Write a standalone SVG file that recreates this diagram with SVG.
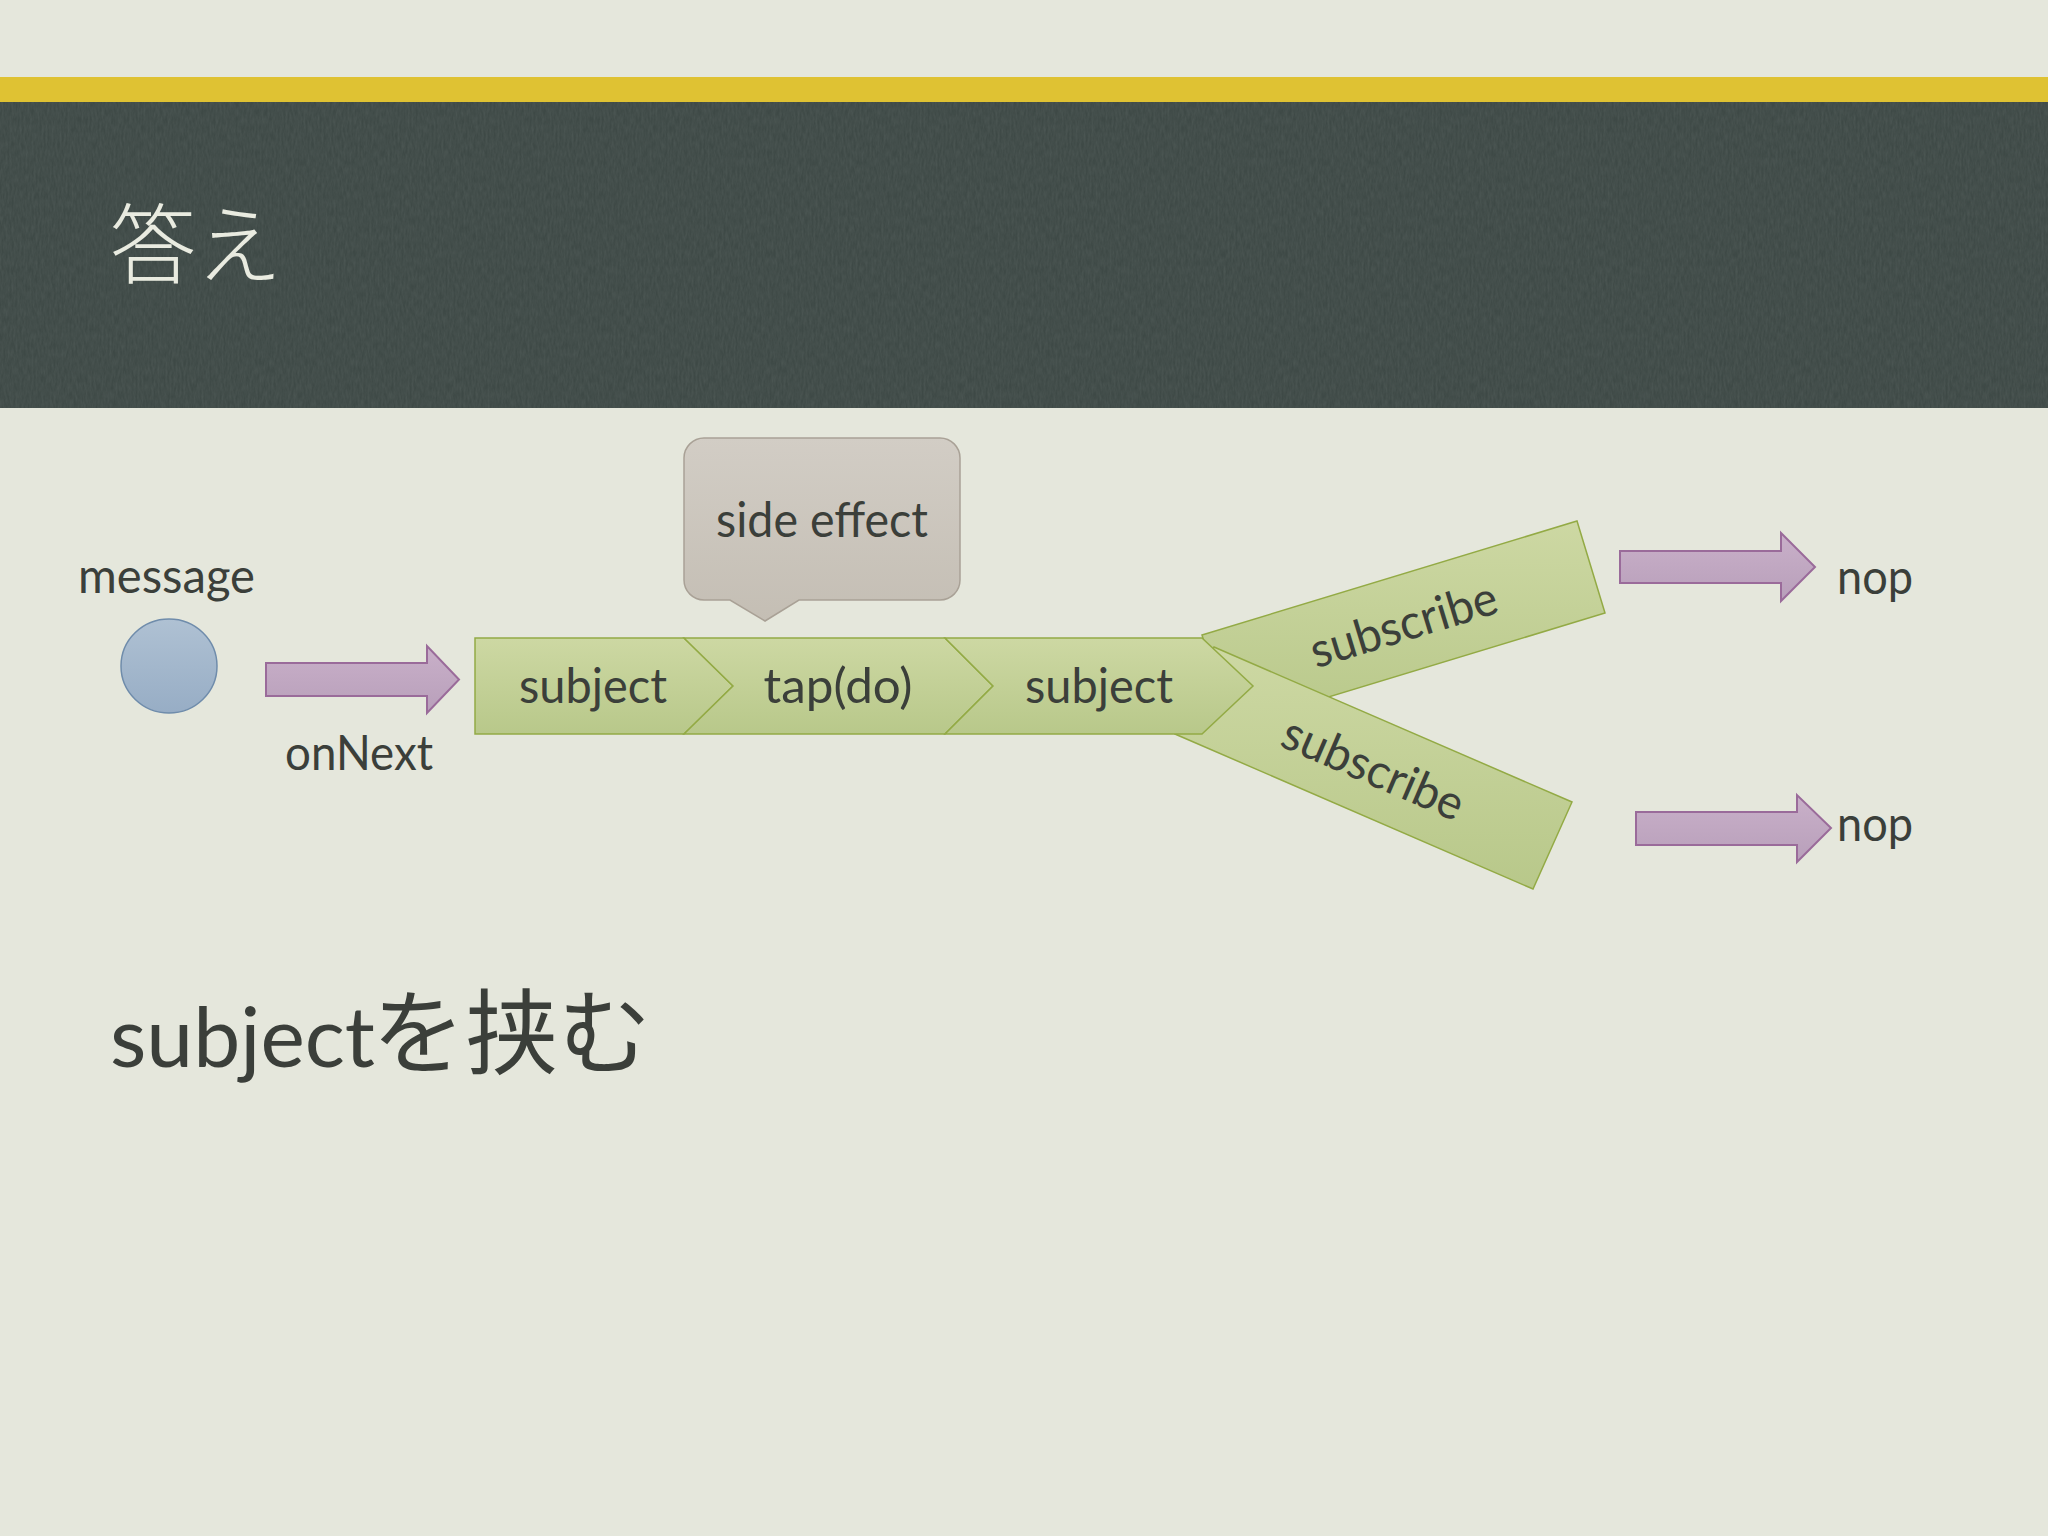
<svg xmlns="http://www.w3.org/2000/svg" width="2048" height="1536" viewBox="0 0 2048 1536">
<defs>
<style>
.lbl{font-family:Lato,"Open Sans","Noto Sans",sans-serif;font-size:48px;fill:#3b3f3a}
.grn{fill:url(#gGreen);stroke:#93aa45;stroke-width:1.5}
.pur{fill:url(#gPur);stroke:#9a6b9a;stroke-width:2}
</style>
<linearGradient id="gGreen" x1="0" y1="0" x2="0" y2="1">
<stop offset="0" stop-color="#cdd8a3"/>
<stop offset="1" stop-color="#b8c88a"/>
</linearGradient>
<linearGradient id="gPur" x1="0" y1="0" x2="0" y2="1">
<stop offset="0" stop-color="#c9b0c9"/>
<stop offset="1" stop-color="#b89fba"/>
</linearGradient>
<linearGradient id="gBlue" x1="0" y1="0" x2="0" y2="1">
<stop offset="0" stop-color="#afc1d3"/>
<stop offset="1" stop-color="#97adc5"/>
</linearGradient>
<linearGradient id="gGrey" x1="0" y1="0" x2="0" y2="1">
<stop offset="0" stop-color="#d2cdc5"/>
<stop offset="1" stop-color="#c4beb4"/>
</linearGradient>
<filter id="chalk" x="0" y="0" width="100%" height="100%">
<feTurbulence type="fractalNoise" baseFrequency="0.5 0.12" numOctaves="3" seed="4"/>
<feColorMatrix type="matrix" values="0 0 0 0 0.85  0 0 0 0 0.9  0 0 0 0 0.88  0 0 0 0.3 -0.06"/>
</filter>
</defs>
<rect width="2048" height="1536" fill="#e5e7dc"/>
<g id="header">
<rect x="0" y="77" width="2048" height="25" fill="#dfc233"/>
<rect x="0" y="102" width="2048" height="306" fill="#3e4946"/>
<rect x="0" y="102" width="2048" height="306" filter="url(#chalk)" opacity="0.35"/>
<text x="110" y="277" font-family="'Noto Sans CJK JP',sans-serif" font-weight="300" font-size="86" fill="#e9ebe0">答え</text>
</g>
<g id="connectors">
<polygon class="pur" points="266,663 427,663 427,646 459,679.5 427,713 427,696 266,696"/>
<polygon class="pur" points="1620,551 1781,551 1781,533 1815,567 1781,601 1781,583 1620,583"/>
<polygon class="pur" points="1636,812 1797,812 1797,795 1831,828 1797,862 1797,845 1636,845"/>
</g>
<g id="message">
<ellipse cx="169" cy="666" rx="48" ry="47" fill="url(#gBlue)" stroke="#6f8cab" stroke-width="1.5"/>
<text class="lbl" x="166.5" y="593" text-anchor="middle" textLength="177" lengthAdjust="spacingAndGlyphs">message</text>
</g>
<g id="onNext">
<text class="lbl" x="359" y="770" text-anchor="middle" textLength="148" lengthAdjust="spacingAndGlyphs">onNext</text>
</g>
<g id="side-effect">
<path d="M704,438 H940 A20,20 0 0 1 960,458 V580 A20,20 0 0 1 940,600 H799 L765,621 L730,600 H704 A20,20 0 0 1 684,580 V458 A20,20 0 0 1 704,438 Z" fill="url(#gGrey)" stroke="#a9a196" stroke-width="1.5"/>
<text class="lbl" x="822" y="537" text-anchor="middle" textLength="212" lengthAdjust="spacingAndGlyphs">side effect</text>
</g>
<g id="subscribe-1">
<polygon class="grn" points="1202,635 1577,521 1605,613 1230,727"/>
<text class="lbl" transform="translate(1403.5,624) rotate(-16.9)" x="0" y="17" text-anchor="middle" textLength="193" lengthAdjust="spacingAndGlyphs">subscribe</text>
</g>
<g id="subscribe-2">
<polygon class="grn" points="1214,647 1572,802 1533,889 1175,734"/>
<text class="lbl" transform="translate(1373.5,768) rotate(23.3)" x="0" y="17" text-anchor="middle" textLength="193" lengthAdjust="spacingAndGlyphs">subscribe</text>
</g>
<g id="subject-1">
<polygon class="grn" points="475,638 684,638 733,686 684,734 475,734"/>
<text class="lbl" x="593" y="703" text-anchor="middle" textLength="148" lengthAdjust="spacingAndGlyphs">subject</text>
</g>
<g id="tap-do">
<polygon class="grn" points="684,638 945,638 993,686 945,734 684,734 733,686"/>
<text class="lbl" x="838" y="703" text-anchor="middle" textLength="149" lengthAdjust="spacingAndGlyphs">tap(do)</text>
</g>
<g id="subject-2">
<polygon class="grn" points="945,638 1202,638 1253,686 1202,734 945,734 993,686"/>
<text class="lbl" x="1099" y="703" text-anchor="middle" textLength="148" lengthAdjust="spacingAndGlyphs">subject</text>
</g>
<g id="nop-1">
<text class="lbl" x="1837" y="594" textLength="76" lengthAdjust="spacingAndGlyphs">nop</text>
</g>
<g id="nop-2">
<text class="lbl" x="1837" y="841" textLength="76" lengthAdjust="spacingAndGlyphs">nop</text>
</g>
<g id="caption">
<text x="110" y="1067" font-family="Lato,'Noto Sans CJK JP',sans-serif" font-size="84" fill="#3b3f3a">subject<tspan dx="-3" font-family="'Noto Sans CJK JP',sans-serif" font-size="93">を挟む</tspan></text>
</g>
</svg>
